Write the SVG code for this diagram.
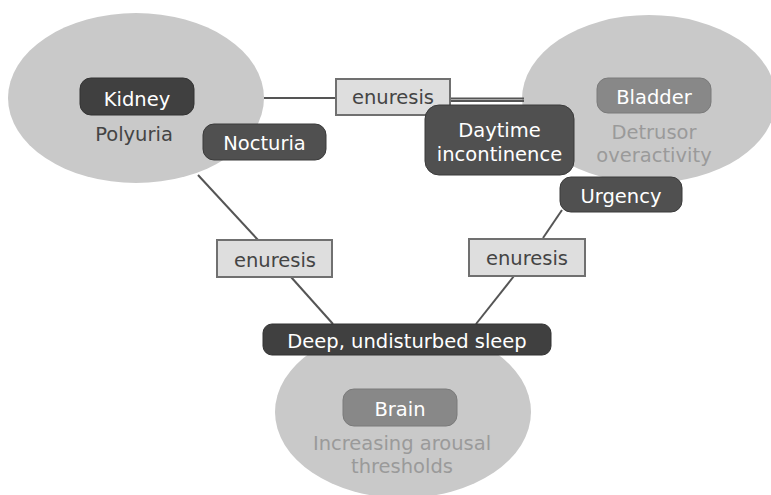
<svg xmlns="http://www.w3.org/2000/svg" width="771" height="495" viewBox="0 0 771 495">
<style>
.ell{fill:#c9c9c9}
.dark{fill:#404040;stroke:#333;stroke-width:1}
.mid{fill:#505050;stroke:#3a3a3a;stroke-width:1}
.light{fill:#888;stroke:#7a7a7a;stroke-width:1}
.box{fill:#dedede;stroke:#707070;stroke-width:2}
.conn line{stroke:#555;stroke-width:2}
text{font-family:"DejaVu Sans","Liberation Sans",sans-serif;font-size:19.5px;text-anchor:middle}
.w{fill:#fff}
.g{fill:#9a9a9a}
.k{fill:#444}
</style>
<rect width="771" height="495" fill="#fff"/>
<g id="kidney"><ellipse class="ell" cx="136" cy="98" rx="128" ry="85"/></g>
<g id="bladder"><ellipse class="ell" cx="649" cy="99" rx="127" ry="84"/></g>
<g id="brain"><ellipse class="ell" cx="403" cy="412" rx="128" ry="86" fill="#cdcdcd"/></g>
<g id="connectors" class="conn">
<line x1="264" y1="98" x2="336" y2="98"/>
<line x1="450" y1="98.5" x2="524" y2="98.5"/>
<line x1="450" y1="101" x2="524" y2="101" stroke-width="1.5"/>
<line x1="198" y1="175" x2="258" y2="240"/>
<line x1="291" y1="277" x2="333" y2="324"/>
<line x1="562" y1="210" x2="543" y2="238"/>
<line x1="514" y1="276" x2="476" y2="324"/>
</g>
<g id="enuresis-top"><rect class="box" x="336" y="79" width="114" height="36"/><text x="393" y="104" class="k">enuresis</text></g>
<g id="enuresis-left"><rect class="box" x="217" y="240" width="115" height="37"/><text x="275" y="267" class="k">enuresis</text></g>
<g id="enuresis-right"><rect class="box" x="469" y="239" width="116" height="37"/><text x="527" y="265" class="k">enuresis</text></g>
<g id="kidney-label"><rect class="dark" x="80" y="78" width="114" height="37" rx="11"/><text x="137" y="106" class="w">Kidney</text><text x="134" y="141" class="k">Polyuria</text></g>
<g id="nocturia"><rect class="mid" x="203" y="124" width="123" height="36" rx="11"/><text x="264.5" y="150" class="w">Nocturia</text></g>
<g id="bladder-label"><rect class="light" x="597" y="78" width="114" height="35" rx="11"/><text x="654" y="104" class="w">Bladder</text><text x="654" y="139" class="g">Detrusor</text><text x="654" y="162" class="g">overactivity</text></g>
<g id="daytime"><rect class="mid" x="425" y="105" width="149" height="70" rx="14"/><text x="499.5" y="137" class="w">Daytime</text><text x="499.5" y="161" class="w">incontinence</text></g>
<g id="urgency"><rect class="mid" x="560" y="177" width="122" height="35" rx="11"/><text x="621" y="203" class="w">Urgency</text></g>
<g id="sleep"><rect class="dark" x="263" y="324" width="288" height="31" rx="9"/><text x="407" y="348" class="w">Deep, undisturbed sleep</text></g>
<g id="brain-label"><rect class="light" x="343" y="389" width="114" height="37" rx="11"/><text x="400" y="416" class="w">Brain</text><text x="402" y="450" class="g">Increasing arousal</text><text x="402" y="473" class="g">thresholds</text></g>
</svg>
